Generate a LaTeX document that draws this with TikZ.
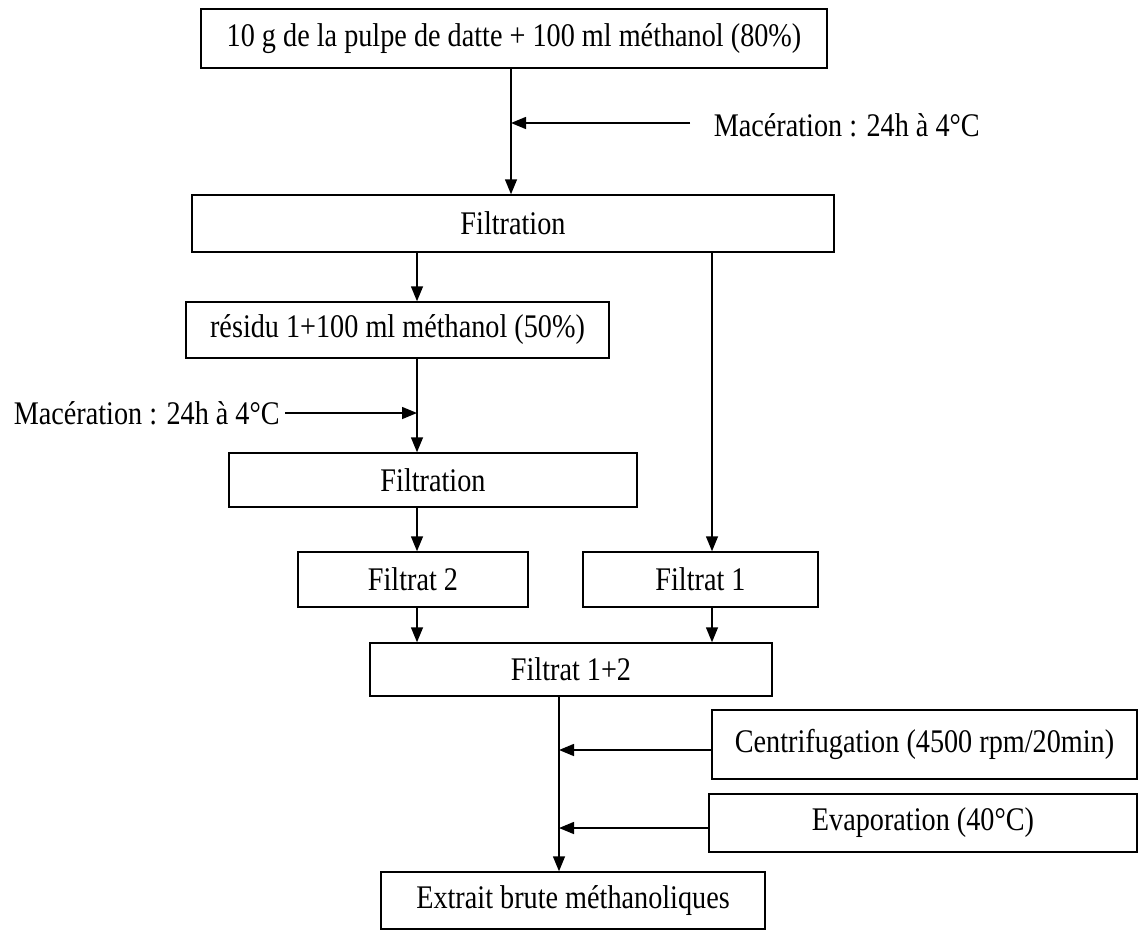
\documentclass[tikz,border=0pt]{standalone}
\usepackage{fontspec}
\setmainfont[FakeStretch=0.855]{Liberation Serif}
\usetikzlibrary{arrows.meta, positioning}

\begin{document}
\begin{tikzpicture}[x=1pt, y=-1pt, line width=1.5pt,
  box/.style={draw, inner sep=0pt, font=\fontsize{33}{36}\selectfont},
  lbl/.style={inner sep=0pt, anchor=west, font=\fontsize{33}{36}\selectfont},
  arr/.style={-{Triangle[length=15pt, width=12pt]}}]
\useasboundingbox (0,0) rectangle (1139,931);
\node[box, minimum width=626, minimum height=59] (start) at (514,38.5) {10 g de la pulpe de datte + 100 ml méthanol (80\%)};
\node[box, minimum width=642, minimum height=57] (filtA) at (513,223.5) {Filtration};
\node[box, minimum width=423, minimum height=56] (res) at (397.5,330) {résidu 1+100 ml méthanol (50\%)};
\node[box, minimum width=408, minimum height=54] (filtB) at (433,480) {Filtration};
\node[box, minimum width=230, minimum height=55] (ft2) at (413,579.5) {Filtrat 2};
\node[box, minimum width=235, minimum height=55] (ft1) at (700.5,579.5) {Filtrat 1};
\node[box, minimum width=402, minimum height=53] (ft12) at (571,669.5) {Filtrat 1+2};
\node[box, minimum width=425, minimum height=69] (centri) at (924.5,744.5) {Centrifugation (4500 rpm/20min)};
\node[box, minimum width=428, minimum height=58] (evap) at (923,823) {Evaporation (40°C)};
\node[box, minimum width=384, minimum height=57] (ext) at (573,900.5) {Extrait brute méthanoliques};
\node[lbl] (mac1) at (713,125) {Macération : 24h à 4°C};
\node[lbl] (mac2) at (13,413) {Macération : 24h à 4°C};
\coordinate (m1) at (690,123);
\coordinate (m2) at (285,413);
\coordinate (c0) at (511,0);
\coordinate (c1) at (417,0);
\coordinate (c2) at (712,0);
\coordinate (c3) at (559,0);
\draw[arr] (start.south -| c0) -- (filtA.north -| c0);
\draw[arr] (m1) -- (m1 -| c0);
\draw[arr] (filtA.south -| c1) -- (res.north -| c1);
\draw[arr] (filtA.south -| c2) -- (ft1.north -| c2);
\draw[arr] (res.south -| c1) -- (filtB.north -| c1);
\draw[arr] (m2) -- (m2 -| c1);
\draw[arr] (filtB.south -| c1) -- (ft2.north -| c1);
\draw[arr] (ft2.south -| c1) -- (ft12.north -| c1);
\draw[arr] (ft1.south -| c2) -- (ft12.north -| c2);
\draw[arr] (ft12.south -| c3) -- (ext.north -| c3);
\draw[arr] ([yshift=-5.5pt]centri.west) -- ([yshift=-5.5pt]centri.west -| c3);
\draw[arr] ([yshift=-5pt]evap.west) -- ([yshift=-5pt]evap.west -| c3);
\end{tikzpicture}
\end{document}
